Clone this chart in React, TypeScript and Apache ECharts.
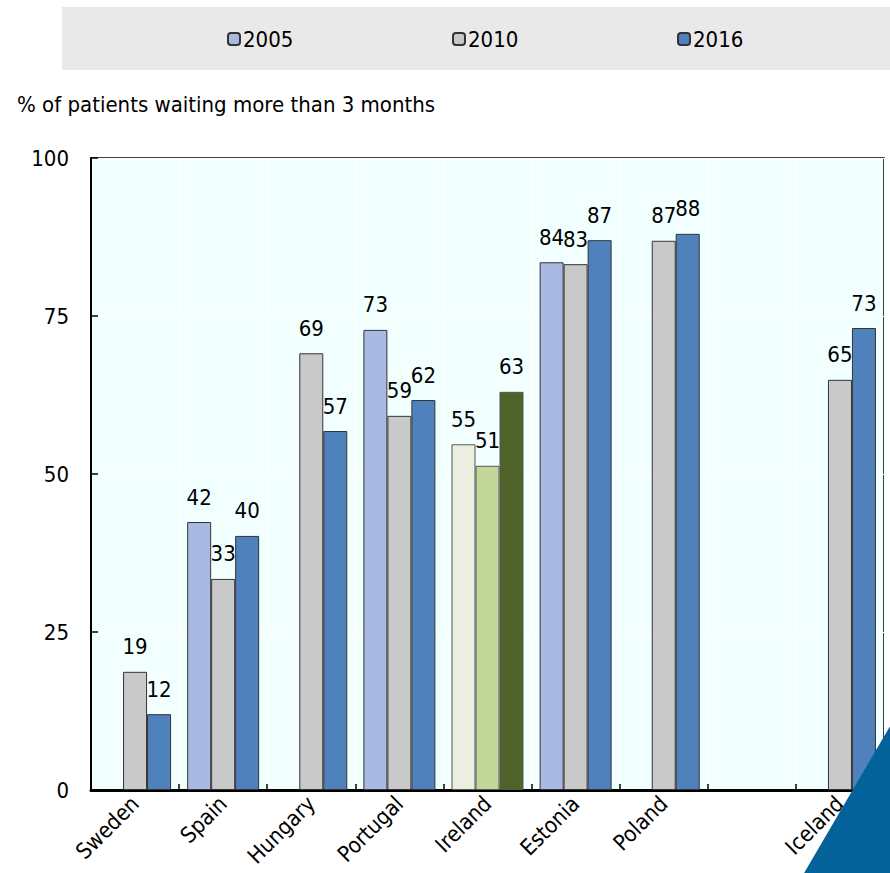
import React, { useEffect, useRef } from "react";
import * as echarts from "echarts";

const countries = ["Sweden", "Spain", "Hungary", "Portugal", "Ireland", "Estonia", "Poland", "", "Iceland"];
const years = ["2005", "2010", "2016"];
const v2005: (number | null)[] = [null, 42.4, null, 72.8, 54.7, 83.5, null, null, null];
const v2010: (number | null)[] = [18.7, 33.4, 69.1, 59.2, 51.3, 83.2, 86.9, null, 64.9];
const v2016: (number | null)[] = [12.0, 40.2, 56.8, 61.7, 63.0, 87.0, 88.0, null, 73.1];
const yTicks = [0, 25, 50, 75, 100];

const yearColors = ["#a9b9e1", "#c9c9c9", "#4f81bd"];
const irelandColors = ["#ebefdf", "#c4d79b", "#4f6228"];
const FONT = "'Liberation Sans Narrow', 'Arial Narrow', 'DejaVu Sans Condensed', sans-serif";

export default function App() {
  const ref = useRef<HTMLDivElement>(null);

  useEffect(() => {
    if (!ref.current) return;
    const chart = echarts.init(ref.current, undefined, { renderer: "svg" });
    const all = [v2005, v2010, v2016];

    const series = years.map((y, si) => ({
      name: y,
      type: "bar",
      barWidth: 24,
      barGap: "0%",
      itemStyle: { color: yearColors[si], borderColor: "#333", borderWidth: 1 },
      label: {
        show: true,
        position: "top",
        distance: 14,
        fontFamily: FONT,
        fontSize: 22,
        color: "#000",
        formatter: (p: any) => (p.value == null ? "" : String(Math.round(p.value))),
      },
      data: all[si].map((v, i) =>
        countries[i] === "Ireland"
          ? { value: v, itemStyle: { color: irelandColors[si], borderColor: "#555" } }
          : v
      ),
    }));

    const legends = years.map((y, i) => ({
      data: [y],
      left: 222 + i * 225,
      top: 23,
      itemWidth: 12,
      itemHeight: 12,
      itemGap: 4,
      textStyle: { fontFamily: FONT, fontSize: 22, color: "#000", padding: [0, 0, 0, -2] },
    }));

    chart.setOption({
      animation: false,
      graphic: [
        { type: "rect", shape: { x: 62, y: 7, width: 840, height: 63 }, style: { fill: "#e9e9e9" }, z: -10 },
        {
          type: "polygon",
          shape: { points: [[893, 721], [893, 880], [800, 880]] },
          style: { fill: "#04629a" },
          z: 100,
        },
      ],
      title: {
        text: "% of patients waiting more than 3 months",
        left: 12,
        top: 88,
        textStyle: { fontFamily: FONT, fontSize: 22, fontWeight: "normal", color: "#000" },
      },
      legend: legends,
      grid: {
        left: 91,
        right: 6,
        top: 158,
        bottom: 83,
        show: true,
        backgroundColor: "#f2ffff",
        borderColor: "#000",
        borderWidth: 1.5,
      },
      xAxis: {
        type: "category",
        data: countries,
        axisLine: { lineStyle: { color: "#000", width: 3 } },
        axisTick: { show: true, inside: true, length: 6, lineStyle: { color: "#000", width: 1.5 } },
        splitLine: { show: true, lineStyle: { color: "#ffffff", width: 1 } },
        axisLabel: {
          rotate: 45,
          interval: 0,
          margin: 10,
          fontFamily: FONT,
          fontSize: 22,
          color: "#000",
        },
      },
      yAxis: {
        type: "value",
        min: yTicks[0],
        max: yTicks[yTicks.length - 1],
        interval: 25,
        axisLine: { show: true, lineStyle: { color: "#000", width: 2 } },
        axisTick: { show: true, inside: true, length: 7, lineStyle: { color: "#000", width: 1.5 } },
        splitLine: { show: true, lineStyle: { color: "#ffffff", width: 1 } },
        axisLabel: { margin: 22, fontFamily: FONT, fontSize: 22, color: "#000" },
      },
      series,
    });

    return () => chart.dispose();
  }, []);

  return (
    <div
      ref={ref}
      style={{ position: "fixed", left: 0, top: 0, width: 890, height: 873, background: "#fff" }}
    />
  );
}
